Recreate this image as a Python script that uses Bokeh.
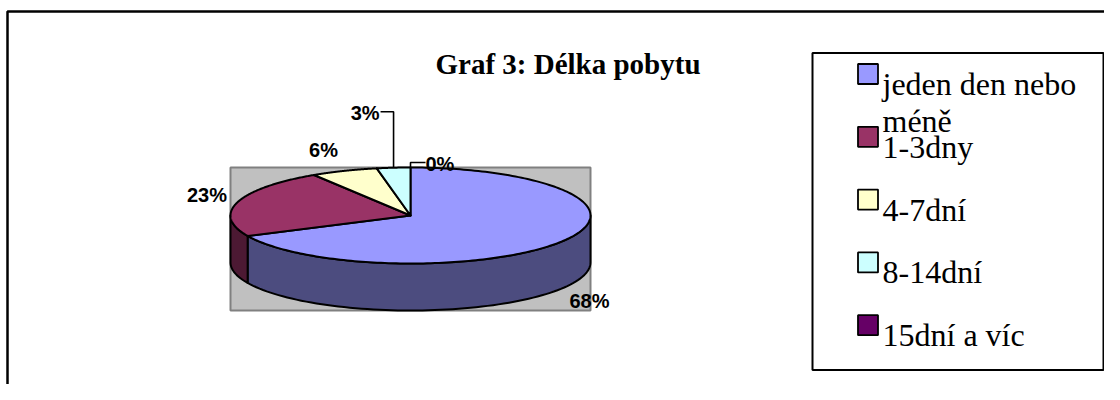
import textwrap
import numpy as np
from bokeh.plotting import figure
from bokeh.models import Range1d
from bokeh.core.properties import value
from bokeh.embed import file_html
from bokeh.resources import INLINE

# ---------------- data ----------------
title_text = "Graf 3: Délka pobytu"
categories = ["jeden den nebo méně", "1-3dny", "4-7dní", "8-14dní", "15dní a víc"]
shares = [68, 23, 6, 3, 0]
top_colors = ["#9999FF", "#993366", "#FFFFCC", "#CCFFFF", "#660066"]
side_colors = ["#4C4C7F", "#4C1933", "#7F7F66", "#667F7F", "#330033"]

# ---------------- layout (styling) ----------------
W, H = 1104, 384
X0, Y0 = 0, 0
cx, cy, rx, ry, depth = 410.0, 215.0, 180.0, 48.0, 47.0
lab_dx, lab_dy = 32.0, 24.0
label_nudge = {2: (-9.0, 1.0)}
leaders = {3: (-56.0, -13.0), 4: (-5.0, 15.0)}   # (rise, run) for small slices
LABEL_FONT = value("Liberation Sans")
SERIF = value("Liberation Serif")

p = figure(width=W, height=H, x_range=Range1d(X0, X0 + W), y_range=Range1d(Y0 + H, Y0),
           output_backend="svg", toolbar_location=None, min_border=0,
           x_axis_location=None, y_axis_location=None,
           outline_line_color=None, background_fill_color="white",
           border_fill_color="white")
p.xgrid.visible = False
p.ygrid.visible = False

# outer chart frame (right/bottom edges lie outside the window)
p.line([7, 7, X0 + W + 10], [Y0 + H + 10, 11, 11], line_color="black", line_width=2.5)

# title
p.text(x=[567.5], y=[63.3], text=[title_text], text_font=SERIF, text_font_style="bold",
       text_font_size="29px", text_align="center", text_baseline="alphabetic", text_color="black")

# plot area (grey box around the pie)
p.quad(left=[cx - rx], right=[cx + rx], top=[cy - ry], bottom=[cy + ry + depth],
       fill_color="#C0C0C0", line_color="#808080", line_width=2)

total = float(sum(shares))
cum = np.concatenate([[0.0], np.cumsum(shares)])
a_start = 90.0 - 360.0 * cum[:-1] / total
a_end = 90.0 - 360.0 * cum[1:] / total


def ell(t_deg, dy=0.0):
    t = np.radians(t_deg)
    return cx + rx * np.cos(t), cy - ry * np.sin(t) + dy


# side walls (front half only)
sx, sy, sc = [], [], []
for i in range(len(shares)):
    lo, hi = a_end[i], a_start[i]
    if hi - lo <= 0:
        continue
    for k in range(-2, 2):
        s, e = max(lo, 180 + 360 * k), min(hi, 360 + 360 * k)
        if e > s:
            t = np.linspace(s, e, 80)
            xt, yt = ell(t)
            xb, yb = ell(t[::-1], depth)
            sx.append(list(xt) + list(xb))
            sy.append(list(yt) + list(yb))
            sc.append(side_colors[i])
p.patches(sx, sy, fill_color=sc, line_color="black", line_width=2, line_join="round")

# top faces
tx, ty, tc = [], [], []
for i in range(len(shares)):
    if shares[i] <= 0:
        continue
    t = np.linspace(a_start[i], a_end[i], 200)
    xe, ye = ell(t)
    tx.append([cx] + list(xe))
    ty.append([cy] + list(ye))
    tc.append(top_colors[i])
p.patches(tx, ty, fill_color=tc, line_color="black", line_width=2, line_join="round")

# data labels
for i, v in enumerate(shares):
    txt = f"{v:.0f}%"
    mid = (a_start[i] + a_end[i]) / 2.0
    if i in leaders:
        rise, run = leaders[i]
        x0, y0 = ell(mid)
        y1 = y0 + rise
        x1 = x0 + run
        p.line([x0, x0, x1], [y0, y1, y1], line_color="black", line_width=1.6)
        p.text(x=[x1 + (-1 if run < 0 else 0)], y=[y1 + 1], text=[txt], text_font=LABEL_FONT,
               text_font_style="bold", text_font_size="20px",
               text_align="right" if run < 0 else "left", text_baseline="middle",
               text_color="black")
    else:
        m = np.radians(mid)
        lx = cx + (rx + lab_dx) * np.cos(m)
        ly = cy - (ry + lab_dy) * np.sin(m) + (depth if np.sin(m) < 0 else 0.0)
        ndx, ndy = label_nudge.get(i, (0.0, 0.0))
        p.text(x=[lx + ndx], y=[ly + ndy], text=[txt], text_font=LABEL_FONT,
               text_font_style="bold", text_font_size="20px", text_align="center",
               text_baseline="middle", text_color="black")

# legend
p.quad(left=[812], right=[1103], top=[52.5], bottom=[369.5], fill_color="white",
       line_color="black", line_width=2)
first_base, step, line_h = 83.5, 62.8, 36.7
for i, cat in enumerate(categories):
    base = first_base + step * i
    p.rect(x=[867.5], y=[base - 10.0], width=20, height=20, fill_color=top_colors[i],
           line_color="black", line_width=1.8)
    for j, line in enumerate(textwrap.wrap(cat, 14)):
        p.text(x=[882], y=[base + line_h * j], text=[line], text_font=SERIF,
               text_font_size="32px", text_align="left", text_baseline="alphabetic",
               text_color="black")

open("out.html", "w").write(file_html(p, INLINE))
